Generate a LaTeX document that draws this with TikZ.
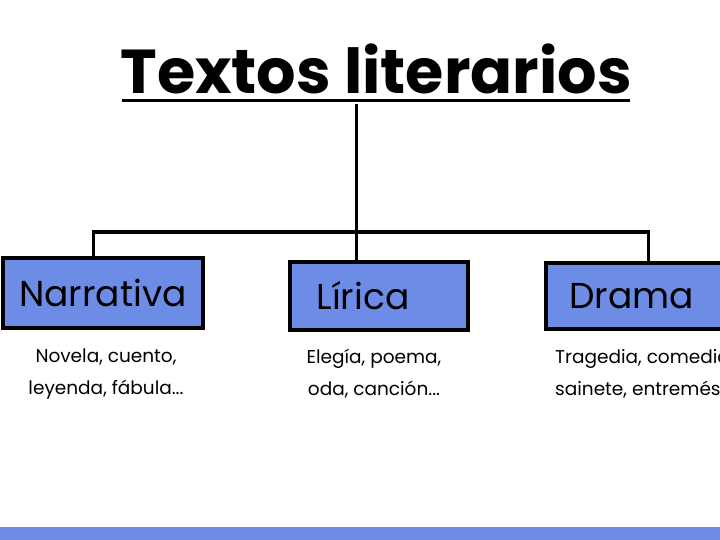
\documentclass[tikz,border=0pt]{standalone}
\usepackage{fontspec}
\setmainfont{Poppins}
\usepackage{tikz}
\usetikzlibrary{positioning}

\definecolor{cajaazul}{RGB}{108,140,230}

\begin{document}
\begin{tikzpicture}[x=1pt,y=-1pt,
      rama/.style={line width=3pt},
      caja/.style={draw,line width=3.5pt,fill=cajaazul,inner sep=0pt,
        font=\fontsize{36}{36}\selectfont},
      ejemplo/.style={font=\fontsize{18.5}{32}\selectfont,align=center,inner sep=0pt}]
    \useasboundingbox (0,0) rectangle (720,540);
    \clip (0,0) rectangle (720,540);
    % titulo
    \node[anchor=base,inner sep=0pt,font=\fontsize{62}{62}\selectfont\bfseries] (titulo) at (376,94) {Textos literarios};
    \draw[line width=3pt] (122,101) -- (630,101);
    % ramas
    \coordinate (centro) at (356,232);
    \coordinate (izq) at (93,232);
    \coordinate (der) at (648,232);
    % cajas
    \node[caja,minimum width=200pt,minimum height=70pt] (narrativa) at (103,293) {Narrativa};
    \node[caja,minimum width=178pt,minimum height=68pt] (lirica) at (379,296) {\hspace*{-32pt}Lírica};
    \node[caja,minimum width=200pt,minimum height=66pt,anchor=west] (drama) at (544,296) {\hspace*{-28pt}Drama};
    % ejemplos
    \node[ejemplo] (ejnarrativa) at (106,374) {Novela, cuento,\\leyenda, fábula...};
    \node[ejemplo] (ejlirica) at (374,374) {Elegía, poema,\\oda, canción...};
    \node[ejemplo,align=left,anchor=west] (ejdrama) at (555,374) {Tragedia, comedia,\\sainete, entremés};
    % conexiones
    \draw[rama] (titulo.south -| centro) ++(0,9) -- (centro);
    \draw[rama,line cap=rect] (izq) -- (der);
    \draw[rama] (izq) -- (narrativa.north -| izq);
    \draw[rama] (centro) -- (lirica.north -| centro);
    \draw[rama] (der) -- (drama.north -| der);
    % franja inferior
    \fill[cajaazul] (0,527) rectangle (720,540);
\end{tikzpicture}
\end{document}
